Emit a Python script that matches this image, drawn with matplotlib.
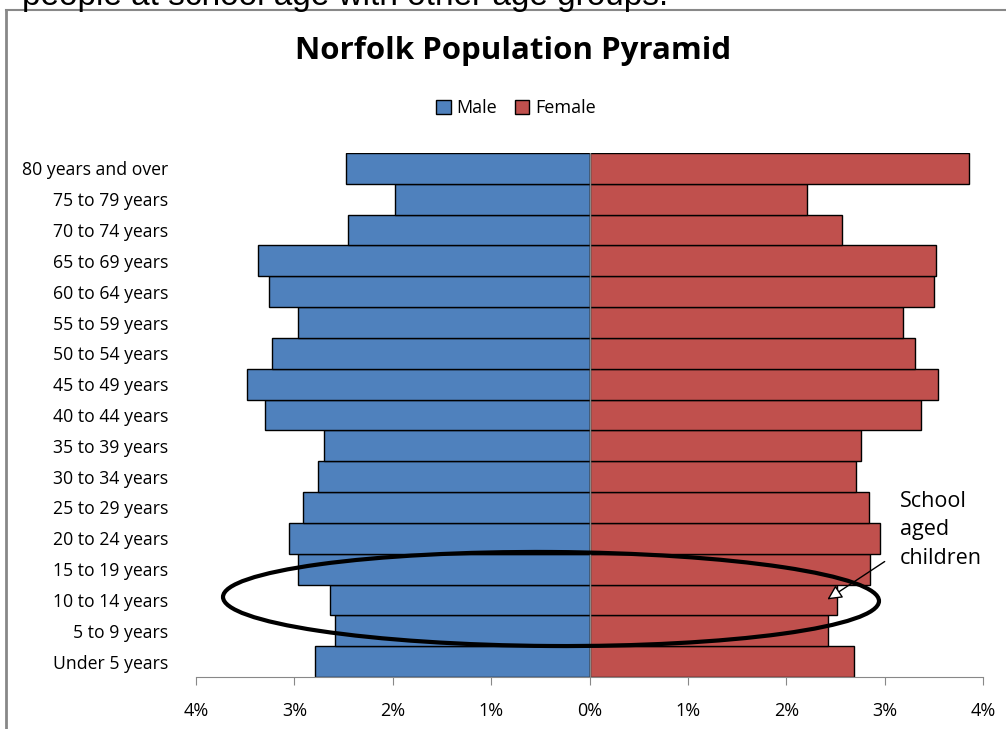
import numpy as np
import matplotlib.pyplot as plt
from matplotlib.patches import Patch, Ellipse
from matplotlib.lines import Line2D

ages = ["Under 5 years", "5 to 9 years", "10 to 14 years", "15 to 19 years",
        "20 to 24 years", "25 to 29 years", "30 to 34 years", "35 to 39 years",
        "40 to 44 years", "45 to 49 years", "50 to 54 years", "55 to 59 years",
        "60 to 64 years", "65 to 69 years", "70 to 74 years", "75 to 79 years",
        "80 years and over"]
male = [2.79, 2.59, 2.64, 2.96, 3.05, 2.91, 2.76, 2.70, 3.30, 3.48,
        3.23, 2.96, 3.26, 3.37, 2.45, 1.98, 2.48]
female = [2.69, 2.42, 2.52, 2.85, 2.95, 2.84, 2.71, 2.76, 3.37, 3.54,
          3.31, 3.19, 3.50, 3.52, 2.57, 2.21, 3.86]
xticks = [-4, -3, -2, -1, 0, 1, 2, 3, 4]
xlabels = ["4%", "3%", "2%", "1%", "0%", "1%", "2%", "3%", "4%"]

blue = "#4F81BD"
red = "#C0504D"
font = "Open Sans"

W, H = 1006, 729
fig = plt.figure(figsize=(W / 100, H / 100), dpi=100)
ax = fig.add_axes([196 / W, 1 - 677 / H, (983 - 196) / W, (677 - 153) / H])

y = np.arange(len(ages))
ax.barh(y, -np.array(male), height=1.0, color=blue, edgecolor="black", linewidth=1)
ax.barh(y, female, height=1.0, color=red, edgecolor="black", linewidth=1)
ax.axvline(0, color="#888888", lw=1)

ax.set_xlim(-4, 4)
ax.set_ylim(-0.5, len(ages) - 0.5)
ax.set_xticks(xticks)
ax.set_xticklabels(xlabels, fontsize=13, family=font)
ax.set_yticks(y)
ax.set_yticklabels(ages, fontsize=12.7, family=font)
ax.tick_params(axis="y", length=0, pad=20)
ax.tick_params(axis="x", length=6, color="#888888", pad=12, direction="out")
for s in ["top", "right", "left"]:
    ax.spines[s].set_visible(False)
ax.spines["bottom"].set_color("#888888")

fig.text(513 / W, 1 - 51 / H, "Norfolk Population Pyramid", ha="center", va="center",
         fontsize=22.5, fontweight="bold", family=font)

handles = [Patch(facecolor=blue, edgecolor="black", label="Male"),
           Patch(facecolor=red, edgecolor="black", label="Female")]
fig.legend(handles=handles, loc="center", bbox_to_anchor=(516 / W, 1 - 108 / H), ncol=2,
           frameon=False, prop={"family": font, "size": 13}, handlelength=0.8,
           handleheight=0.8, handletextpad=0.3, columnspacing=1.0)

# cut-off sentence at the very top of the picture
fig.text(22 / W, 1 - 5 / H, "people at school age with other age groups.",
         ha="left", va="baseline", fontsize=24, family="Liberation Sans")

# page frame lines
fig.add_artist(Line2D([6 / W, 6 / W], [0, 1 - 10 / H], color="#888888", lw=2,
                      transform=fig.transFigure))
fig.add_artist(Line2D([6 / W, 1], [1 - 10 / H, 1 - 10 / H], color="#888888", lw=1.5,
                      transform=fig.transFigure))

# hand-drawn highlight
fig.add_artist(Ellipse((551 / W, 1 - 599 / H), 656 / W, 94 / H, angle=-0.5,
                       fill=False, edgecolor="black", lw=3, transform=fig.transFigure))
fig.text(900 / W, 1 - 530 / H, "School\naged\nchildren", ha="left", va="center",
         fontsize=15.5, family=font, linespacing=1.45)
ax.annotate("", xy=(825 / W, 1 - 601 / H), xytext=(887 / W, 1 - 560 / H),
            xycoords="figure fraction", textcoords="figure fraction",
            arrowprops=dict(arrowstyle="-|>", color="black", lw=1, fc="white",
                            mutation_scale=22))

fig.savefig("out.png", dpi=100)
